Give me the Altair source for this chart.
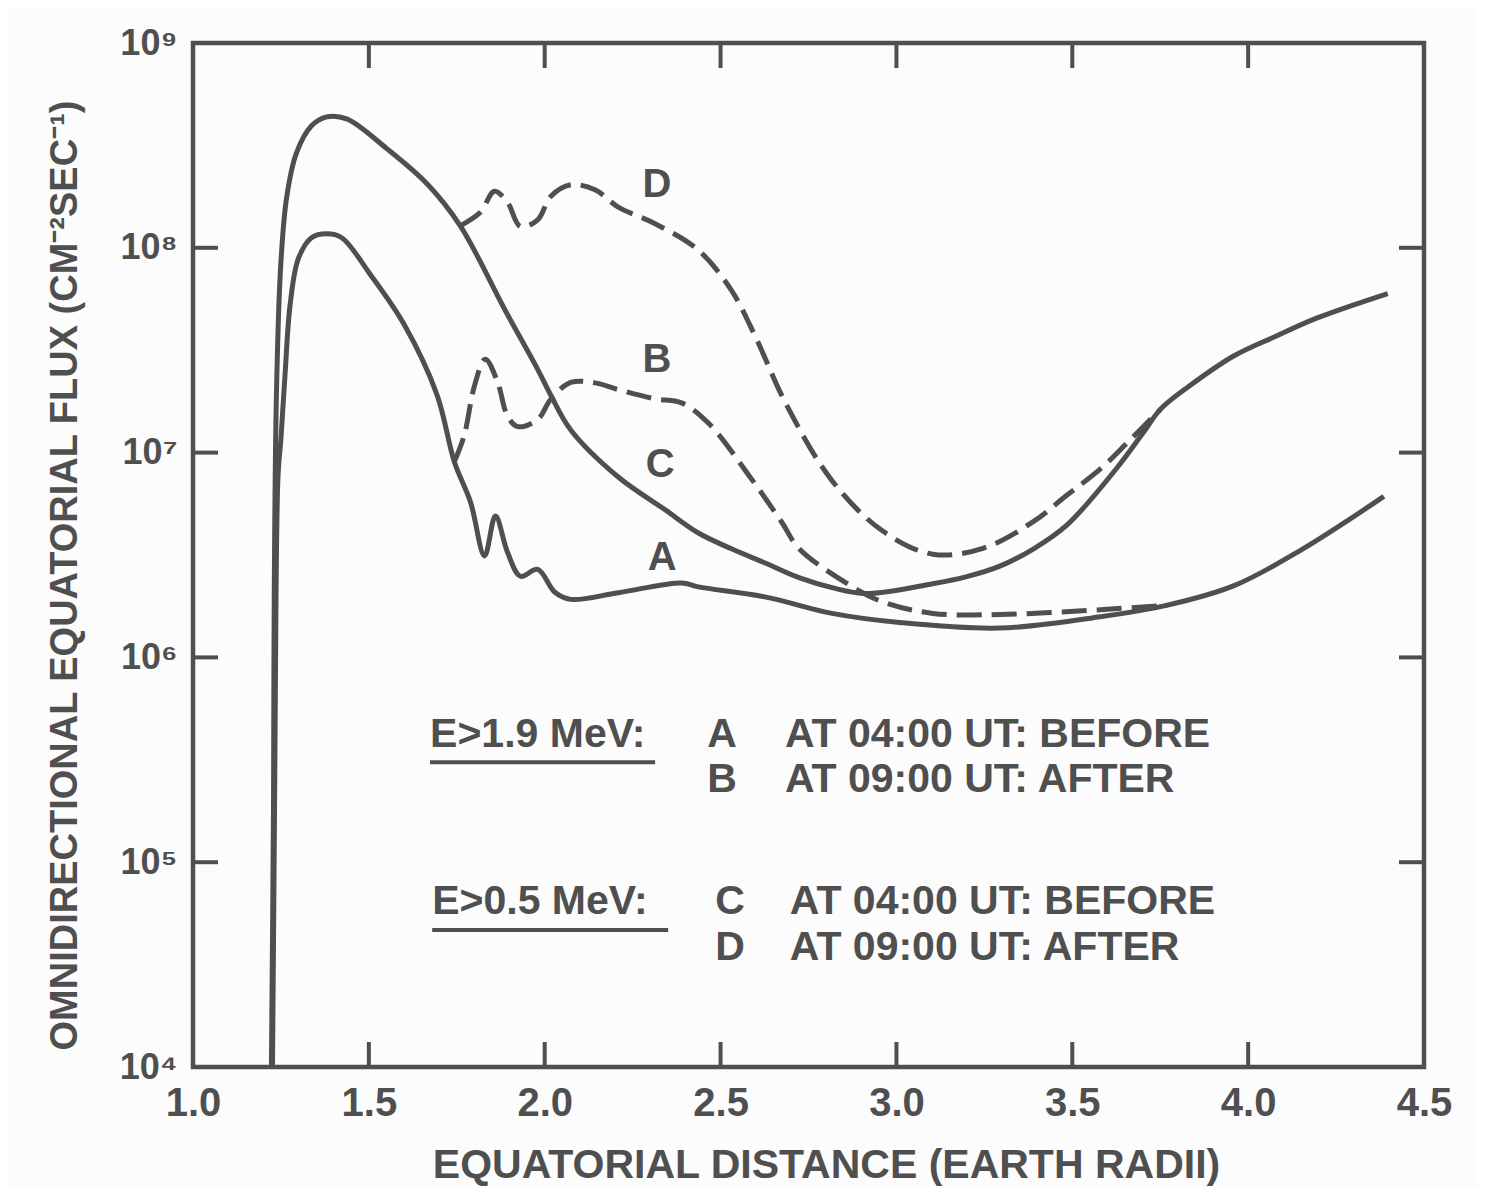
import altair as alt
import pandas as pd

# ---------------- data ----------------
# Curve A: E>1.9 MeV at 04:00 UT (before) - solid
curve_a_x = [1.226, 1.232, 1.236, 1.242, 1.250, 1.262, 1.276, 1.300, 1.337, 1.380,
             1.423, 1.503, 1.600, 1.694, 1.743, 1.789, 1.829, 1.860, 1.894, 1.931,
             1.980, 2.029, 2.074, 2.209, 2.389, 2.437, 2.629, 2.817, 3.009, 3.294,
             3.580, 3.771, 3.960, 4.151, 4.386]
curve_a_flux = [1.0e4, 2.0e5, 2.0e6, 7.9e6, 1.17e7, 2.45e7, 5.25e7, 8.9e7, 1.12e8, 1.17e8,
                1.12e8, 7.45e7, 4.23e7, 1.91e7, 9.02e6, 5.74e6, 3.13e6, 4.90e6, 3.27e6, 2.49e6,
                2.69e6, 2.08e6, 1.92e6, 2.07e6, 2.31e6, 2.21e6, 1.97e6, 1.64e6, 1.48e6, 1.39e6,
                1.58e6, 1.80e6, 2.24e6, 3.35e6, 6.11e6]

# Curve B: E>1.9 MeV at 09:00 UT (after) - dashed
curve_b_x = [1.743, 1.771, 1.800, 1.831, 1.866, 1.894, 1.923, 1.980, 2.017, 2.074,
             2.143, 2.209, 2.314, 2.389, 2.466, 2.580, 2.674, 2.723, 2.866, 2.960,
             3.103, 3.294, 3.580, 3.771]
curve_b_flux = [9.02e6, 1.21e7, 2.11e7, 2.86e7, 2.21e7, 1.51e7, 1.34e7, 1.45e7, 1.82e7, 2.20e7,
                2.19e7, 2.03e7, 1.83e7, 1.75e7, 1.39e7, 7.76e6, 4.57e6, 3.40e6, 2.26e6, 1.87e6,
                1.64e6, 1.62e6, 1.71e6, 1.80e6]

# Curve C: E>0.5 MeV at 04:00 UT (before) - solid
curve_c_x = [1.223, 1.229, 1.231, 1.237, 1.249, 1.266, 1.294, 1.337, 1.380, 1.437,
             1.551, 1.666, 1.760, 1.886, 1.980, 2.017, 2.074, 2.209, 2.343, 2.437,
             2.531, 2.629, 2.723, 2.817, 2.914, 3.103, 3.200, 3.294, 3.390, 3.486,
             3.629, 3.703, 3.751, 3.829, 3.960, 4.074, 4.200, 4.397]
curve_c_flux = [1.0e4, 2.07e5, 1.96e6, 1.85e7, 7.98e7, 1.75e8, 2.90e8, 3.94e8, 4.36e8, 4.26e8,
                3.05e8, 2.05e8, 1.28e8, 5.01e7, 2.55e7, 1.91e7, 1.29e7, 7.60e6, 5.25e6, 4.05e6,
                3.39e6, 2.88e6, 2.45e6, 2.19e6, 2.05e6, 2.29e6, 2.48e6, 2.79e6, 3.39e6, 4.45e6,
                8.51e6, 1.26e7, 1.63e7, 2.09e7, 2.97e7, 3.67e7, 4.57e7, 5.98e7]

# Curve D: E>0.5 MeV at 09:00 UT (after) - dashed
curve_d_x = [1.760, 1.817, 1.857, 1.894, 1.931, 1.980, 2.017, 2.074, 2.143, 2.209,
             2.314, 2.437, 2.531, 2.600, 2.686, 2.817, 2.960, 3.103, 3.246, 3.389,
             3.486, 3.580, 3.657, 3.751]
curve_d_flux = [1.28e8, 1.49e8, 1.89e8, 1.67e8, 1.27e8, 1.37e8, 1.78e8, 2.03e8, 1.92e8, 1.58e8,
                1.31e8, 9.73e7, 6.19e7, 3.65e7, 1.73e7, 7.29e6, 4.15e6, 3.19e6, 3.41e6, 4.60e6,
                6.22e6, 8.32e6, 1.12e7, 1.63e7]

# axis ticks
x_tick_values = [1.0, 1.5, 2.0, 2.5, 3.0, 3.5, 4.0, 4.5]
y_tick_values = [1e4, 1e5, 1e6, 1e7, 1e8, 1e9]
inner_x_ticks = [1.5, 2.0, 2.5, 3.0, 3.5, 4.0]
inner_y_ticks = [1e5, 1e6, 1e7, 1e8]

# curve letters placed next to the curves
curve_label_text = ["D", "B", "C", "A"]
curve_label_x = [2.319, 2.319, 2.328, 2.334]
curve_label_y = [2.03e8, 2.83e7, 8.69e6, 3.05e6]

# in-plot legend
legend_left_text = ["E>1.9 MeV:", "AT 04:00 UT: BEFORE", "AT 09:00 UT: AFTER",
                    "E>0.5 MeV:", "AT 04:00 UT: BEFORE", "AT 09:00 UT: AFTER"]
legend_left_x = [1.674, 2.683, 2.683, 1.680, 2.697, 2.697]
legend_left_y = [4.18e5, 4.18e5, 2.52e5, 6.40e4, 6.40e4, 3.81e4]
legend_letter_text = ["A", "B", "C", "D"]
legend_letter_x = [2.504, 2.504, 2.527, 2.527]
legend_letter_y = [4.18e5, 2.52e5, 6.40e4, 3.81e4]
underline_x = [1.674, 1.680]
underline_x2 = [2.314, 2.351]
underline_y = [3.08e5, 4.67e4]

# ---------------- styling ----------------
INK = "#4f4f4f"
FONT = "Liberation Sans"
W, H = 1231, 1024
TICK = 25

df_solid = pd.concat([
    pd.DataFrame({"x": curve_a_x, "y": curve_a_flux, "curve": "A"}),
    pd.DataFrame({"x": curve_c_x, "y": curve_c_flux, "curve": "C"}),
])
df_dash = pd.concat([
    pd.DataFrame({"x": curve_b_x, "y": curve_b_flux, "curve": "B"}),
    pd.DataFrame({"x": curve_d_x, "y": curve_d_flux, "curve": "D"}),
])

xscale = alt.Scale(domain=[1.0, 4.5], nice=False, zero=False)
yscale = alt.Scale(type="log", domain=[1e4, 1e9], nice=False)

xaxis = alt.Axis(values=x_tick_values, format=".1f", ticks=False, domain=False, grid=False,
                 labelFlush=False, labelOverlap=False,
                 labelFont=FONT, labelFontSize=40, labelFontWeight="bold", labelColor=INK,
                 labelPadding=16,
                 title="EQUATORIAL DISTANCE (EARTH RADII)", titleFont=FONT, titleFontSize=41,
                 titleFontWeight="bold", titleColor=INK, titleX=633, titleY=98,
                 titleBaseline="middle", titleAlign="center")

sup = "['\u2070','\u00b9','\u00b2','\u00b3','\u2074','\u2075','\u2076','\u2077','\u2078','\u2079']"
yaxis = alt.Axis(values=y_tick_values, ticks=False, domain=False, grid=False,
                 labelFlush=False, labelOverlap=False,
                 labelExpr="'10' + " + sup + "[round(log(datum.value)/LN10)]",
                 labelFont=FONT, labelFontSize=36, labelFontWeight="bold", labelColor=INK,
                 labelPadding=16,
                 title="OMNIDIRECTIONAL EQUATORIAL FLUX (CM\u207b\u00b2SEC\u207b\u00b9)",
                 titleFont=FONT, titleFontSize=38, titleFontWeight="bold", titleColor=INK,
                 titleX=-128, titleY=532, titleAngle=270, titleBaseline="middle",
                 titleAlign="center")


def xenc():
    return alt.X("x:Q", scale=xscale, axis=xaxis)


def yenc():
    return alt.Y("y:Q", scale=yscale, axis=yaxis)


solid = alt.Chart(df_solid).mark_line(
    color=INK, strokeWidth=5, interpolate="catmull-rom", clip=True
).encode(x=xenc(), y=yenc(), detail="curve:N")

dashed = alt.Chart(df_dash).mark_line(
    color=INK, strokeWidth=5, interpolate="catmull-rom", strokeDash=[25, 10], clip=True
).encode(x=xenc(), y=yenc(), detail="curve:N")

df_xt = pd.DataFrame({"x": inner_x_ticks})
df_yt = pd.DataFrame({"y": inner_y_ticks})
tick_bottom = alt.Chart(df_xt).mark_rule(color=INK, strokeWidth=4).encode(
    x=xenc(), y=alt.value(H), y2=alt.value(H - TICK))
tick_top = alt.Chart(df_xt).mark_rule(color=INK, strokeWidth=4).encode(
    x=xenc(), y=alt.value(0), y2=alt.value(TICK))
tick_left = alt.Chart(df_yt).mark_rule(color=INK, strokeWidth=4).encode(
    y=yenc(), x=alt.value(0), x2=alt.value(TICK))
tick_right = alt.Chart(df_yt).mark_rule(color=INK, strokeWidth=4).encode(
    y=yenc(), x=alt.value(W), x2=alt.value(W - TICK))

text_style = dict(font=FONT, fontWeight="bold", color=INK, baseline="middle")

curve_labels = alt.Chart(pd.DataFrame({
    "x": curve_label_x, "y": curve_label_y, "label": curve_label_text
})).mark_text(align="center", fontSize=40, **text_style).encode(
    x=xenc(), y=yenc(), text="label:N")

legend_left = alt.Chart(pd.DataFrame({
    "x": legend_left_x, "y": legend_left_y, "label": legend_left_text
})).mark_text(align="left", fontSize=41, **text_style).encode(
    x=xenc(), y=yenc(), text="label:N")

legend_letters = alt.Chart(pd.DataFrame({
    "x": legend_letter_x, "y": legend_letter_y, "label": legend_letter_text
})).mark_text(align="center", fontSize=41, **text_style).encode(
    x=xenc(), y=yenc(), text="label:N")

underlines = alt.Chart(pd.DataFrame({
    "x": underline_x, "x2": underline_x2, "y": underline_y
})).mark_rule(color=INK, strokeWidth=4).encode(x=xenc(), x2="x2:Q", y=yenc())

chart = alt.layer(
    solid, dashed, tick_bottom, tick_top, tick_left, tick_right,
    curve_labels, legend_left, legend_letters, underlines
).properties(
    width=W, height=H,
    padding={"left": 185, "top": 35, "right": 54, "bottom": 120},
    autosize=alt.AutoSizeParams(type="none"),
    background="#fcfcfc",
).configure_view(
    stroke=INK, strokeWidth=4.5
)

chart.save("out.html", embed_options={"renderer": "svg", "actions": False})
